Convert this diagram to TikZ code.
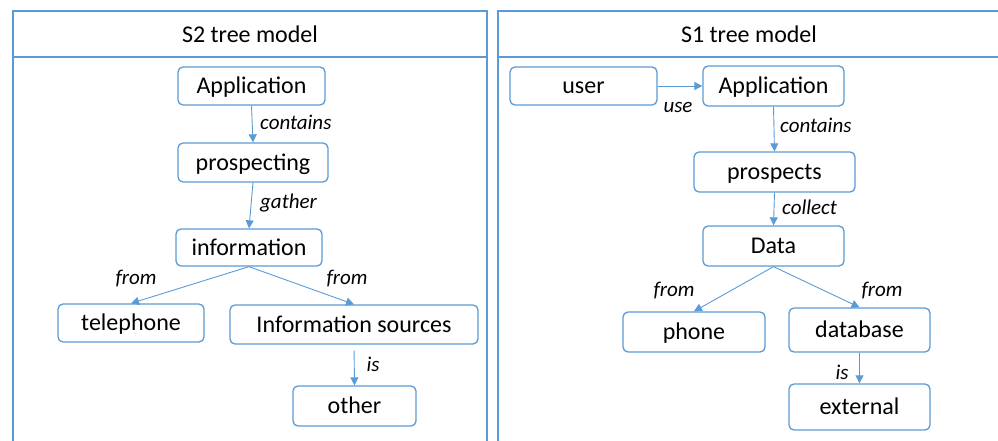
\documentclass[tikz,border=0pt]{standalone}
\usepackage{fontspec}
\setmainfont{Carlito}
\usetikzlibrary{arrows.meta}
\definecolor{ofblue}{RGB}{91,155,213}
\begin{document}
\begin{tikzpicture}[x=1pt,y=-1pt,
  panel/.style={draw=ofblue, line width=1.4pt},
  hdr/.style={font=\fontsize{24}{28}\selectfont, inner sep=0pt, text height=15.5pt, text depth=0pt},
  box/.style={draw=ofblue, line width=1.3pt, rounded corners=5pt, fill=white,
    font=\fontsize{24}{28}\selectfont, inner sep=0pt, text height=15.5pt, text depth=0pt},
  lbl/.style={font=\fontsize{21}{25}\selectfont\itshape, inner sep=0pt, text height=13.5pt, text depth=0pt},
  arr/.style={draw=ofblue, line width=0.9pt, -{Triangle[length=8pt,width=8pt]}}]
\useasboundingbox (0,0) rectangle (998,441);

% panel frames
\draw[panel] (13,441) -- (13,11) -- (487,11) -- (487,441);
\draw[panel] (13,57) -- (487,57);
\draw[panel] (498,441) -- (498,11) -- (998,11);
\draw[panel] (498,57) -- (998,57);
\node[hdr] (h2) at (250,35) {S2 tree model};
\node[hdr] (h1) at (749,35) {S1 tree model};

% S2 tree
\node[box, minimum width=147pt, minimum height=38pt] (a2) at (251.5,86) {Application};
\node[box, minimum width=150pt, minimum height=39pt] (p2) at (253,162.5) {prospecting};
\node[box, minimum width=146pt, minimum height=37pt] (i2) at (249,247.5) {information};
\node[box, minimum width=146pt, minimum height=38pt] (t2) at (131,323) {telephone};
\node[box, minimum width=248pt, minimum height=39pt] (s2) at (354,324.5) {Information sources};
\node[box, minimum width=123pt, minimum height=40pt] (o2) at (354.5,406) {other};

\draw[arr] (a2.south) -- (p2.north);
\draw[arr] (p2.south) -- (i2.north);
\draw[arr] (i2.south) -- (t2.north);
\draw[arr] (i2.south) -- (s2.north);
\draw[arr, shorten <=6pt] (s2.south) -- (o2.north);

\node[lbl, anchor=west] (l1) at (260,123) {contains};
\node[lbl, anchor=west] (l2) at (260,202) {gather};
\node[lbl] (l3) at (136,277.5) {from};
\node[lbl] (l4) at (347,277.5) {from};
\node[lbl] (l5) at (373,365) {is};

% S1 tree
\node[box, minimum width=147pt, minimum height=38pt] (u1) at (583.5,86) {user};
\node[box, minimum width=141pt, minimum height=40pt] (a1) at (773.5,86) {Application};
\node[box, minimum width=161pt, minimum height=40pt] (p1) at (774.5,172) {prospects};
\node[box, minimum width=141pt, minimum height=40pt] (d1) at (773.5,246) {Data};
\node[box, minimum width=142pt, minimum height=40pt] (ph1) at (694,332) {phone};
\node[box, minimum width=141pt, minimum height=44pt] (db1) at (859.5,330) {database};
\node[box, minimum width=141pt, minimum height=46pt] (ex1) at (859.5,407) {external};

\draw[arr] (u1.east) -- (a1.west);
\draw[arr] (a1.south) -- (p1.north);
\draw[arr] (p1.south) -- (d1.north);
\draw[arr] (d1.south) -- (ph1.north);
\draw[arr] (d1.south) -- (db1.north);
\draw[arr] (db1.south) -- (ex1.north);

\node[lbl] (m1) at (678,106) {use};
\node[lbl, anchor=west] (m2) at (780,126) {contains};
\node[lbl, anchor=west] (m3) at (782,207.5) {collect};
\node[lbl] (m4) at (674,290) {from};
\node[lbl] (m5) at (882,290) {from};
\node[lbl] (m6) at (842,373) {is};
\end{tikzpicture}
\end{document}
